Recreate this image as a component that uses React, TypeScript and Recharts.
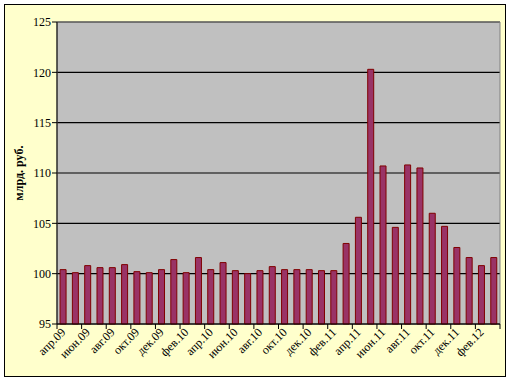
import React from 'react';
import { BarChart, Bar, XAxis, YAxis, CartesianGrid, ReferenceArea } from 'recharts';

const months = [
  'апр.09', 'май.09', 'июн.09', 'июл.09', 'авг.09', 'сен.09', 'окт.09', 'ноя.09', 'дек.09',
  'янв.10', 'фев.10', 'мар.10', 'апр.10', 'май.10', 'июн.10', 'июл.10', 'авг.10', 'сен.10',
  'окт.10', 'ноя.10', 'дек.10', 'янв.11', 'фев.11', 'мар.11', 'апр.11', 'май.11', 'июн.11',
  'июл.11', 'авг.11', 'сен.11', 'окт.11', 'ноя.11', 'дек.11', 'янв.12', 'фев.12', 'мар.12',
];
const values = [
  100.4, 100.1, 100.8, 100.6, 100.6, 100.9, 100.2, 100.1, 100.4,
  101.4, 100.1, 101.6, 100.4, 101.1, 100.3, 100.0, 100.3, 100.7,
  100.4, 100.4, 100.4, 100.3, 100.3, 103.0, 105.6, 120.3, 110.7,
  104.6, 110.8, 110.5, 106.0, 104.7, 102.6, 101.6, 100.8, 101.6,
];
const yTicks = [95, 100, 105, 110, 115, 120, 125];
const yLabel = 'млрд. руб.';

const data = months.map((m, i) => ({ month: m, value: values[i] }));

const W = 510;
const H = 382;
const MARGIN = { top: 22, right: 10, left: 0, bottom: 8 };
const Y_AXIS_W = 57;
const X_AXIS_H = 50;
const PLOT_W = W - MARGIN.left - MARGIN.right - Y_AXIS_W;
const STEP = PLOT_W / months.length;
const FONT = '"Liberation Serif", "Times New Roman", serif';

const XTick = (props: any) => {
  const { x, y, payload } = props;
  const left = x - STEP / 2;
  const isLast = payload && payload.value === months[months.length - 2];
  return (
    <g>
      <line x1={left} x2={left} y1={y} y2={y + 5} stroke="#000" strokeWidth={1} />
      {isLast && (
        <line x1={x + STEP * 1.5} x2={x + STEP * 1.5} y1={y} y2={y + 5} stroke="#000" strokeWidth={1} />
      )}
      <text
        x={x + 3}
        y={y + 9}
        textAnchor="end"
        fontFamily={FONT}
        fontSize={12}
        fill="#000"
        transform={`rotate(-45, ${x + 3}, ${y + 9})`}
      >
        {payload.value}
      </text>
    </g>
  );
};

const YLabel = (props: any) => {
  const vb = props.viewBox || {};
  const cx = (vb.x || 0) + 20;
  const cy = (vb.y || 0) + (vb.height || 0) / 2;
  return (
    <text
      x={cx}
      y={cy}
      textAnchor="middle"
      dominantBaseline="middle"
      fontFamily={FONT}
      fontSize={12}
      fontWeight="bold"
      fill="#000"
      transform={`rotate(-90, ${cx}, ${cy})`}
    >
      {yLabel}
    </text>
  );
};

export default function App() {
  return (
    <div style={{ position: 'absolute', left: 0, top: 0, width: W, height: H }}>
      <div
        style={{
          position: 'absolute',
          left: 4,
          top: 4,
          width: 500,
          height: 371,
          background: '#FFFFCC',
          border: '1px solid #000',
        }}
      />
      <div style={{ position: 'absolute', left: 0, top: 0 }}>
        <BarChart width={W} height={H} data={data} margin={MARGIN} barCategoryGap="25%">
          <CartesianGrid fill="#C0C0C0" stroke="#000" strokeWidth={1.2} vertical={false} />
          <ReferenceArea y1={95} y2={125} fill="none" stroke="#808080" strokeWidth={1} />
          <XAxis
            dataKey="month"
            interval={1}
            height={X_AXIS_H}
            tickLine={false}
            tickSize={0}
            tickMargin={0}
            axisLine={{ stroke: '#000', strokeWidth: 1 }}
            tick={<XTick />}
          />
          <YAxis
            width={Y_AXIS_W}
            domain={[95, 125]}
            ticks={yTicks}
            interval={0}
            tickSize={5}
            tickMargin={1}
            axisLine={{ stroke: '#000', strokeWidth: 1 }}
            tickLine={{ stroke: '#000', strokeWidth: 1 }}
            tick={{ fill: '#000', fontFamily: FONT, fontSize: 12 }}
            label={<YLabel />}
          />
          <Bar dataKey="value" fill="#993366" stroke="#800000" strokeWidth={1} isAnimationActive={false} />
        </BarChart>
      </div>
    </div>
  );
}
